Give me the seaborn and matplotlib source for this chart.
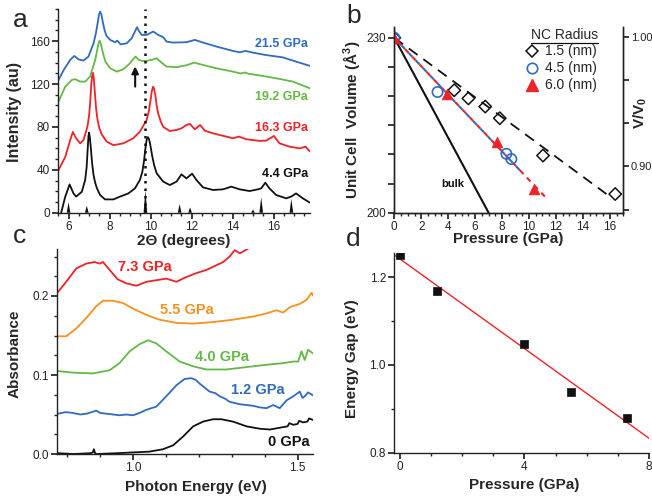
import numpy as np
import pandas as pd
import matplotlib
matplotlib.use('Agg')
import matplotlib.pyplot as plt
import seaborn as sns
from matplotlib.lines import Line2D
from matplotlib.ticker import MultipleLocator, FixedLocator, FixedFormatter

# ---------------- Panel a : XRD patterns ----------------
a_x_44 = [5.64, 5.84, 6.05, 6.24, 6.37, 6.65, 6.81, 6.88, 6.93, 6.97, 7.0, 7.04, 7.09, 7.15, 7.22, 7.3, 7.38,
          7.54, 7.78, 8.19, 8.51, 8.92, 9.24, 9.48, 9.6, 9.68, 9.75, 9.81, 9.87, 9.93, 10.0, 10.08, 10.18, 10.3,
          10.62, 10.94, 11.27, 11.51, 11.75, 12.03, 12.24, 12.56, 13.05, 13.54, 13.94, 14.35, 14.83, 15.24,
          15.4, 15.6, 15.8, 16.13, 16.62, 16.86, 17.1, 17.43, 17.78]
a_y_44 = [0, 15, 26.4, 18, 15, 19.6, 30.5, 42, 58, 71, 74.7, 70, 60, 46, 35, 28, 23,
          16.5, 12.4, 12.4, 15, 18, 22.7, 30.5, 38, 48, 60, 68, 70.5, 68.5, 62, 53, 44, 36.7,
          29, 25.8, 29, 35.8, 32, 36.4, 30.5, 23.6, 21.2, 21.8, 24.3, 21.8, 20.2, 21.8,
          22.7, 28, 22.7, 16.5, 13.4, 15, 18, 13.4, 9.3]

a_x_163 = [5.51, 5.84, 6.08, 6.21, 6.37, 6.57, 6.73, 6.92, 7.0, 7.06, 7.11, 7.16, 7.19, 7.23, 7.28, 7.34, 7.41,
           7.5, 7.62, 7.86, 8.19, 8.67, 9.16, 9.48, 9.81, 9.92, 10.0, 10.06, 10.12, 10.17, 10.23, 10.3, 10.38,
           10.5, 10.62, 10.94, 11.27, 11.51, 11.75, 11.92, 12.16, 12.42, 12.65, 13.05, 13.7, 14.02, 14.31,
           14.67, 15.32, 15.64, 16.02, 16.29, 16.78, 17.27, 17.56, 17.78]
a_y_163 = [39.8, 52, 67.8, 75.3, 69.4, 64.7, 67.8, 80.3, 90, 104, 120, 129, 130.5, 126, 113, 98, 87,
           79, 73, 66.3, 63, 64.7, 69.4, 75.6, 86.5, 95, 105, 113, 117.5, 116, 110, 100, 92,
           85, 80, 76.2, 77.2, 78.7, 81.8, 82.8, 77.8, 81.8, 76.5, 74, 71, 69.4, 71,
           68.5, 67, 67.2, 71.6, 64.7, 61.6, 60, 61.6, 57]

a_x_192 = [5.51, 5.84, 6.16, 6.32, 6.57, 6.81, 7.05, 7.3, 7.38, 7.45, 7.51, 7.57, 7.64, 7.72, 7.8, 8.03,
           8.35, 8.67, 9.0, 9.16, 9.27, 9.4, 9.57, 9.81, 10.13, 10.3, 10.54, 10.78, 11.27, 11.75, 12.13,
           12.56, 13.21, 14.02, 14.4, 14.6, 14.8, 15.48, 16.29, 16.94, 17.78]
a_y_192 = [103.6, 117.6, 123.8, 124.5, 122.3, 122.3, 127, 142.5, 150, 157, 160.5, 158, 152, 146, 141, 134.7,
           131.6, 133.8, 139.4, 143.4, 145.6, 143, 141.6, 141.6, 143, 144, 140, 136.3, 135.7, 137.5, 140,
           137.8, 134.7, 131.6, 129.8, 130.8, 129.5, 127.6, 124.8, 122.3, 116]

a_x_215 = [5.51, 5.76, 6.08, 6.28, 6.49, 6.73, 6.97, 7.22, 7.33, 7.42, 7.49, 7.54, 7.6, 7.67, 7.76, 7.85,
           8.03, 8.27, 8.38, 8.54, 8.84, 9.08, 9.24, 9.34, 9.45, 9.57, 9.81, 9.97, 10.13, 10.38, 10.62,
           10.78, 11.1, 11.75, 12.16, 12.56, 13.21, 14.02, 14.35, 14.64, 15.0, 15.64, 16.45, 16.94, 17.78]
a_y_215 = [123.8, 133, 142.5, 146.2, 143, 141.9, 145.6, 158, 167, 177, 185, 187.6, 185, 178, 170, 165,
           161.2, 159, 160.5, 157, 158, 162.7, 169, 173, 169, 165.8, 165.8, 167.4, 169, 165.8, 163.7,
           159.6, 158.7, 159, 161.2, 158.7, 155, 150.9, 149.6, 150.9, 149.3, 147, 144.9, 141.9, 136.9]

a_ref_pos = [6.0, 6.89, 9.75, 11.42, 11.93, 15.0, 15.4, 16.87]
a_ref_int = [9.6, 6.5, 21, 8, 5, 3, 14.3, 13]
a_labels = ['4.4 GPa', '16.3 GPa', '19.2 GPa', '21.5 GPa']
a_label_y = [35.8, 78.7, 108, 157.4]

# ---------------- Panel b : equation of state ----------------
b_p_15 = [0, 4.45, 5.5, 6.75, 7.83, 11.04, 16.4]
b_v_15 = [230, 221.0, 219.6, 218.2, 216.2, 209.8, 203.2]
b_p_45 = [0, 3.21, 8.32, 8.69]
b_v_45 = [230, 220.7, 210.1, 209.2]
b_p_60 = [0, 3.88, 7.63, 10.35]
b_v_60 = [230, 220.35, 212.2, 204.0]
b_fit15_p = [0, 15.75]
b_fit15_v = [230, 203.2]
b_fit60_p = [0, 11.33]
b_fit60_v = [230, 202.4]
b_fit45_p = [0, 9.6]
b_fit45_v = [230, 206.6]
b_bulk_p = [0, 7.0]
b_bulk_v = [230, 200]
b_legend = ['1.5 (nm)', '4.5 (nm)', '6.0 (nm)']

# ---------------- Panel c : absorbance spectra ----------------
c_e_0 = [0.772, 0.82, 0.87, 0.878, 0.881, 0.885, 0.888, 0.95, 1.0, 1.05, 1.091, 1.122, 1.152, 1.183, 1.213,
         1.243, 1.269, 1.304, 1.345, 1.385, 1.416, 1.456, 1.47, 1.475, 1.487, 1.5, 1.505, 1.517, 1.53, 1.535, 1.548]
c_a_0 = [0.001, 0.0, 0.001, 0.002, 0.006, 0.001, 0.0, 0.001, 0.002, 0.003, 0.006, 0.011, 0.022, 0.035, 0.041,
         0.044, 0.044, 0.041, 0.035, 0.032, 0.031, 0.034, 0.035, 0.039, 0.037, 0.038, 0.042, 0.040, 0.041, 0.045, 0.043]

c_e_12 = [0.772, 0.795, 0.817, 0.84, 0.858, 0.875, 0.888, 0.9, 0.919, 0.94, 0.959, 0.98, 1.0, 1.02, 1.041, 1.071,
          1.101, 1.132, 1.157, 1.177, 1.19, 1.203, 1.233, 1.25, 1.264, 1.28, 1.294, 1.325, 1.345, 1.365, 1.385,
          1.406, 1.426, 1.446, 1.467, 1.487, 1.507, 1.515, 1.522, 1.532, 1.548]
c_a_12 = [0.051, 0.053, 0.052, 0.050, 0.051, 0.053, 0.055, 0.052, 0.051, 0.050, 0.049, 0.050, 0.049, 0.052, 0.056, 0.060,
          0.073, 0.087, 0.095, 0.096, 0.094, 0.089, 0.079, 0.077, 0.073, 0.070, 0.066, 0.063, 0.062, 0.061, 0.059,
          0.058, 0.062, 0.058, 0.068, 0.073, 0.079, 0.071, 0.073, 0.078, 0.074]

c_e_40 = [0.772, 0.817, 0.878, 0.929, 0.959, 0.99, 1.02, 1.046, 1.071, 1.101, 1.142, 1.183, 1.223, 1.284, 1.345,
          1.406, 1.456, 1.487, 1.502, 1.512, 1.522, 1.532, 1.548]
c_a_40 = [0.105, 0.103, 0.102, 0.106, 0.115, 0.130, 0.139, 0.144, 0.140, 0.130, 0.117, 0.111, 0.107, 0.107, 0.110,
          0.113, 0.115, 0.117, 0.117, 0.130, 0.119, 0.132, 0.127]

c_e_55 = [0.772, 0.797, 0.828, 0.858, 0.888, 0.909, 0.939, 0.97, 1.0, 1.041, 1.081, 1.132, 1.183, 1.243, 1.304,
          1.365, 1.406, 1.436, 1.456, 1.477, 1.507, 1.527, 1.543, 1.548]
c_a_55 = [0.149, 0.149, 0.159, 0.172, 0.187, 0.194, 0.194, 0.191, 0.184, 0.176, 0.170, 0.166, 0.165, 0.167, 0.170,
          0.174, 0.178, 0.182, 0.179, 0.186, 0.190, 0.195, 0.204, 0.200]

c_e_73 = [0.772, 0.797, 0.828, 0.858, 0.883, 0.899, 0.909, 0.929, 0.954, 0.98, 1.01, 1.041, 1.071, 1.101, 1.132,
          1.162, 1.193, 1.223, 1.254, 1.274, 1.294, 1.309, 1.325, 1.35]
c_a_73 = [0.205, 0.218, 0.235, 0.241, 0.243, 0.241, 0.243, 0.233, 0.221, 0.216, 0.213, 0.218, 0.220, 0.222, 0.218,
          0.224, 0.229, 0.233, 0.239, 0.243, 0.250, 0.258, 0.254, 0.260]
c_labels = ['0 GPa', '1.2 GPa', '4.0 GPa', '5.5 GPa', '7.3 GPa']
c_label_x = [1.41, 1.298, 1.188, 1.081, 0.954]
c_label_y = [0.0156, 0.081, 0.123, 0.182, 0.237]

# ---------------- Panel d : energy gap ----------------
d_p = [0, 1.2, 4.0, 5.5, 7.3]
d_gap = [1.25, 1.168, 1.048, 0.939, 0.88]
d_fit_p = [-0.18, 8.0]
d_fit_gap = [1.251, 0.833]

# ---------------- styling ----------------
sns.set_theme(style='ticks')
plt.rcParams['font.family'] = ['Liberation Sans', 'DejaVu Sans']
plt.rcParams['mathtext.fontset'] = 'custom'
plt.rcParams['mathtext.rm'] = 'Liberation Sans'
plt.rcParams['mathtext.bf'] = 'Liberation Sans:bold'
plt.rcParams['mathtext.it'] = 'Liberation Sans:italic'
plt.rcParams['axes.linewidth'] = 1.0
plt.rcParams['axes.edgecolor'] = '#222222'
plt.rcParams['xtick.color'] = '#222222'
plt.rcParams['ytick.color'] = '#222222'
plt.rcParams['xtick.labelsize'] = 8.5
plt.rcParams['ytick.labelsize'] = 8.5
plt.rcParams['xtick.major.size'] = 4
plt.rcParams['ytick.major.size'] = 4
plt.rcParams['xtick.minor.size'] = 2.5
plt.rcParams['ytick.minor.size'] = 2.5
plt.rcParams['xtick.major.pad'] = 2
plt.rcParams['ytick.major.pad'] = 2

BLACK = '#111111'
RED = '#ee2227'
GREEN = '#62b946'
BLUE = '#2f6bbf'
ORANGE = '#f7901e'
LABFS = 11

W, H = 652, 498
fig = plt.figure(figsize=(W / 100, H / 100), dpi=100)


def rect(l, r, t, b):
    return [l / W, (H - b) / H, (r - l) / W, (b - t) / H]


def line(ax, x, y, **kw):
    sns.lineplot(x=x, y=y, ax=ax, estimator=None, sort=False, **kw)


# ===== panel a =====
axa = fig.add_axes(rect(58.3, 310, 9, 212.7))
for xs, ys, c in [(a_x_44, a_y_44, BLACK), (a_x_163, a_y_163, RED),
                  (a_x_192, a_y_192, GREEN), (a_x_215, a_y_215, BLUE)]:
    line(axa, xs, ys, color=c, lw=1.3)
w = 0.09
for p, h in zip(a_ref_pos, a_ref_int):
    axa.fill([p - w, p, p + w], [0, h, 0], color=BLACK, lw=0)
axa.axvline(a_ref_pos[2], color=BLACK, ls=(0, (1, 2)), lw=1.8)
axa.annotate('', xy=(9.25, 139), xytext=(9.25, 115),
             arrowprops=dict(arrowstyle='-|>', color=BLACK, lw=1.5, mutation_scale=10))
for lab, yy, c in zip(a_labels, a_label_y, [BLACK, RED, GREEN, BLUE]):
    axa.text(17.68, yy, lab, color=c, ha='right', va='center', fontsize=9, fontweight='bold')
axa.set_xlim(5.5, 17.78)
axa.set_ylim(0, 190)
axa.xaxis.set_major_locator(FixedLocator([6, 8, 10, 12, 14, 16]))
axa.xaxis.set_minor_locator(MultipleLocator(0.5))
axa.yaxis.set_major_locator(FixedLocator([0, 40, 80, 120, 160]))
axa.yaxis.set_minor_locator(MultipleLocator(10))
axa.set_xlabel('2Θ (degrees)', fontsize=LABFS, fontweight='bold')
axa.set_ylabel('Intensity (au)', fontsize=LABFS + 0.5, fontweight='bold')
axa.xaxis.set_label_coords(0.50, -0.103)
axa.yaxis.set_label_coords(-0.144, 0.494)
sns.despine(ax=axa)

# ===== panel b =====
axb = fig.add_axes(rect(394.3, 623.3, 26.7, 212.7))
line(axb, b_bulk_p, b_bulk_v, color=BLACK, lw=1.5)
line(axb, b_fit15_p, b_fit15_v, color=BLACK, lw=1.3)
axb.lines[-1].set_linestyle((0, (6, 4)))
line(axb, b_fit45_p, b_fit45_v, color=BLUE, lw=1.5)
axb.lines[-1].set_linestyle((0, (2.5, 2.5)))
line(axb, b_fit60_p, b_fit60_v, color=RED, lw=1.5)
axb.lines[-1].set_linestyle((2.5, (2.5, 2.5)))
sns.scatterplot(x=b_p_15, y=b_v_15, ax=axb, marker='D', s=40, facecolor='none', edgecolor=BLACK, linewidth=1.1, zorder=5)
sns.scatterplot(x=b_p_45, y=b_v_45, ax=axb, marker='o', s=55, facecolor='none', edgecolor=BLUE, linewidth=1.2, zorder=5)
sns.scatterplot(x=b_p_60, y=b_v_60, ax=axb, marker='^', s=60, color=RED, edgecolor=RED, linewidth=0.5, zorder=6)
axb.text(4.37, 205.0, 'bulk', fontsize=8, fontweight='bold', ha='center', va='center', color=BLACK)
axb.set_xlim(0, 17)
axb.set_ylim(200, 231.9)
axb.xaxis.set_major_locator(MultipleLocator(2))
axb.xaxis.set_minor_locator(MultipleLocator(0.5))
axb.yaxis.set_major_locator(FixedLocator([200, 205, 210, 215, 220, 225, 230]))
axb.yaxis.set_major_formatter(FixedFormatter(['200', '', '', '', '', '', '230']))
axb.set_xlabel('Pressure (GPa)', fontsize=LABFS, fontweight='bold')
axb.set_ylabel('Unit Cell  Volume (Å$^{\\mathbf{3}}$)', fontsize=LABFS, fontweight='bold')
axb.xaxis.set_label_coords(0.498, -0.104)
axb.yaxis.set_label_coords(-0.141, 0.498)
axb.spines['top'].set_visible(False)
axr = axb.twinx()
axr.set_ylim(0.8644, 1.0077)
axr.yaxis.set_major_locator(FixedLocator([0.8667, 0.90, 0.9333, 0.9667, 1.00]))
axr.yaxis.set_major_formatter(FixedFormatter(['', '0.90', '', '', '1.00']))
axr.tick_params(axis='y', labelsize=8, pad=1.5)
axr.set_ylabel('V/V$_{\\mathbf{0}}$', fontsize=11, fontweight='bold')
axr.yaxis.set_label_coords(1.035, 0.536)
axr.spines['top'].set_visible(False)
handles = [Line2D([], [], ls='none', marker='D', ms=6.5, mfc='none', mec=BLACK, mew=1.1),
           Line2D([], [], ls='none', marker='o', ms=7.5, mfc='none', mec=BLUE, mew=1.2),
           Line2D([], [], ls='none', marker='^', ms=8, color=RED)]
leg = axb.legend(handles, b_legend, loc='upper left', bbox_to_anchor=(0.57, 0.905), frameon=False,
                 fontsize=10, handlelength=1.0, handletextpad=0.45, labelspacing=0.22, borderpad=0,
                 borderaxespad=0)
ttl = axb.text(0.595, 0.955, 'NC Radius', transform=axb.transAxes, fontsize=10, ha='left', va='center')

# ===== panel c =====
axc = fig.add_axes(rect(57.3, 313.3, 248.6, 454))
for xs, ys, c in [(c_e_0, c_a_0, BLACK), (c_e_12, c_a_12, BLUE), (c_e_40, c_a_40, GREEN),
                  (c_e_55, c_a_55, ORANGE), (c_e_73, c_a_73, RED)]:
    line(axc, xs, ys, color=c, lw=1.3)
for lab, xx, yy, c in zip(c_labels, c_label_x, c_label_y, [BLACK, BLUE, GREEN, ORANGE, RED]):
    axc.text(xx, yy, lab, color=c, ha='left', va='center', fontsize=10.5, fontweight='bold')
axc.set_xlim(0.77, 1.548)
axc.set_ylim(0, 0.26)
axc.xaxis.set_major_locator(FixedLocator([1.0, 1.5]))
axc.xaxis.set_major_formatter(FixedFormatter(['1.0', '1.5']))
axc.xaxis.set_minor_locator(FixedLocator([0.8, 0.9, 1.1, 1.2, 1.3, 1.4]))
axc.yaxis.set_major_locator(FixedLocator([0.0, 0.1, 0.2]))
axc.yaxis.set_major_formatter(FixedFormatter(['0.0', '0.1', '0.2']))
axc.yaxis.set_minor_locator(MultipleLocator(0.025))
axc.set_xlabel('Photon Energy (eV)', fontsize=LABFS, fontweight='bold')
axc.set_ylabel('Absorbance', fontsize=LABFS, fontweight='bold')
axc.xaxis.set_label_coords(0.542, -0.127)
axc.yaxis.set_label_coords(-0.138, 0.488)
sns.despine(ax=axc)

# ===== panel d =====
axd = fig.add_axes(rect(394.3, 649, 252.7, 452.7))
line(axd, d_fit_p, d_fit_gap, color=RED, lw=1.0)
sns.scatterplot(x=d_p, y=d_gap, ax=axd, marker='s', s=30, color=BLACK, edgecolor=BLACK, linewidth=0.5, zorder=5)
axd.set_xlim(-0.18, 8.0)
axd.set_ylim(0.8, 1.256)
axd.xaxis.set_major_locator(FixedLocator([0, 4, 8]))
axd.xaxis.set_minor_locator(MultipleLocator(1))
axd.yaxis.set_major_locator(FixedLocator([0.8, 1.0, 1.2]))
axd.yaxis.set_major_formatter(FixedFormatter(['0.8', '1.0', '1.2']))
axd.yaxis.set_minor_locator(MultipleLocator(0.1))
axd.set_xlabel('Pressure (GPa)', fontsize=LABFS, fontweight='bold')
axd.set_ylabel('Energy Gap (eV)', fontsize=LABFS, fontweight='bold')
axd.xaxis.set_label_coords(0.509, -0.127)
axd.yaxis.set_label_coords(-0.14, 0.468)
sns.despine(ax=axd)

# panel letters
for lab, x, y in [('a', 13, 27), ('b', 346, 23), ('c', 13, 243), ('d', 346, 246)]:
    fig.text(x / W, (H - y) / H, lab, fontsize=19, ha='left', va='baseline')

# underline legend title
fig.canvas.draw()
bb = ttl.get_window_extent()
ul = Line2D([bb.x0 / W, bb.x1 / W], [(bb.y0 - 1) / H, (bb.y0 - 1) / H], transform=fig.transFigure,
            color=BLACK, lw=0.9)
fig.add_artist(ul)

fig.savefig('out.png', dpi=100)
